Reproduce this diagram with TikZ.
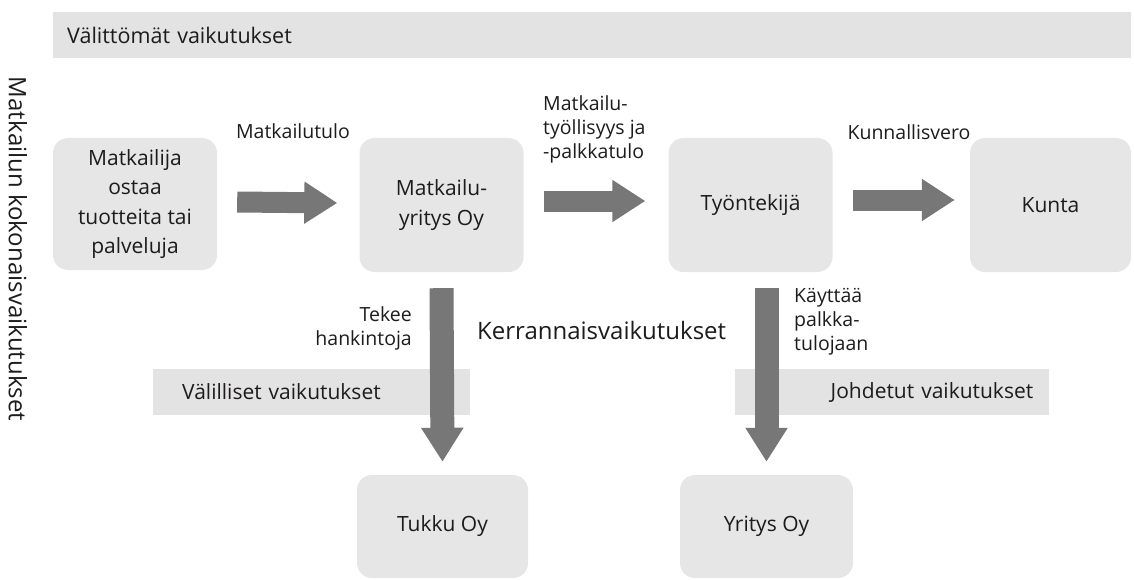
\documentclass[tikz,border=0pt]{standalone}
\usepackage{fontspec}
\setmainfont{Open Sans}
\usetikzlibrary{positioning,arrows.meta}

\definecolor{boxgray}{HTML}{E6E6E6}
\definecolor{bandgray}{HTML}{E3E3E3}
\definecolor{arrowgray}{HTML}{777777}
\definecolor{ink}{HTML}{1E1B1C}

\newcommand{\boxdims}{
\def\bw{164pt}   % top row boxes
\def\bh{134pt}
\def\lw{171pt}   % lower row boxes
\def\lh{103pt}
}
\newcommand{\boxfont}{\fontsize{21}{29.5}\selectfont}
\newcommand{\lblfont}{\fontsize{19.5}{24}\selectfont}
\newcommand{\bigfont}{\fontsize{24}{28}\selectfont}

\tikzset{
  box/.style={fill=boxgray, rounded corners=15pt, align=center, inner sep=0pt,
    text=ink, font=\boxfont},
  band/.style={fill=bandgray, anchor=west, minimum height=46pt, inner ysep=0pt,
    align=left, text=ink, font=\boxfont},
  lbl/.style={inner sep=0pt, text=ink, font=\lblfont},
  hflow/.style={draw=arrowgray, line width=21pt, -{Triangle[width=40pt,length=33pt]}},
  vflow/.style={draw=arrowgray, line width=24pt, -{Triangle[width=40pt,length=34pt]}},
}

\begin{document}
\begin{tikzpicture}[x=1pt,y=-1pt]
  \boxdims
  \useasboundingbox (0,0) rectangle (1134,580);

  \node[band, text width=1050pt, inner xsep=14pt, font=\fontsize{21.5}{26}\selectfont] (valit) at (53,35) {Välittömät vaikutukset};
  \node[band, text width=259pt, inner xsep=29pt] (valil) at (153,392) {Välilliset vaikutukset};
  \node[band, text width=282pt, inner xsep=16pt, align=right] (johd) at (735,392) {Johdetut vaikutukset};

  \node[box, minimum width=\bw, minimum height=132pt] (matk) at (135,204) {Matkailija\\ostaa\\tuotteita tai\\palveluja};
  \node[box, minimum width=\bw, minimum height=\bh] (myri) at (441.5,205) {Matkailu-\\yritys Oy};
  \node[box, minimum width=\bw, minimum height=\bh] (tyon) at (750.5,205) {Työntekijä};
  \node[box, minimum width=161pt, minimum height=\bh] (kunta) at (1050.5,205) {Kunta};
  \node[box, minimum width=\lw, minimum height=\lh] (tukku) at (442.5,526.5) {Tukku Oy};
  \node[box, minimum width=173pt, minimum height=\lh] (yoy) at (766.5,526.5) {Yritys Oy};

  \draw[hflow] ([shift={(20pt,2pt)}]matk.east) -- ([shift={(-22pt,2pt)}]myri.west);
  \draw[hflow] ([shift={(20pt,4pt)}]myri.east) -- ([shift={(-23pt,4pt)}]tyon.west);
  \draw[hflow] ([shift={(20pt,5pt)}]tyon.east) -- ([shift={(-15pt,5pt)}]kunta.west);

  \coordinate (tyobot) at (yoy.north |- tyon.south);
  \draw[vflow] ([yshift=-16pt]myri.south) -- ([yshift=13pt]tukku.north);
  \draw[vflow] ([yshift=-16pt]tyobot) -- ([yshift=13pt]yoy.north);

  \node[lbl] (mtulo) at (293,131) {Matkailutulo};
  \node[lbl, anchor=west, align=left] (mtyo) at (543,129) {Matkailu-\\työllisyys ja\\-palkkatulo};
  \node[lbl] (kvero) at (909,132) {Kunnallisvero};
  \node[lbl, anchor=east, align=right] (hank) at (412,328) {Tekee\\hankintoja};
  \node[lbl, anchor=west, align=left] (kayt) at (794,322) {Käyttää\\palkka-\\tulojaan};
  \node[lbl, anchor=west, font=\bigfont] (kerr) at (477,330) {Kerrannaisvaikutukset};
  \node[lbl, rotate=-90, font=\bigfont] (koko) at (18,249) {Matkailun kokonaisvaikutukset};
\end{tikzpicture}
\end{document}
